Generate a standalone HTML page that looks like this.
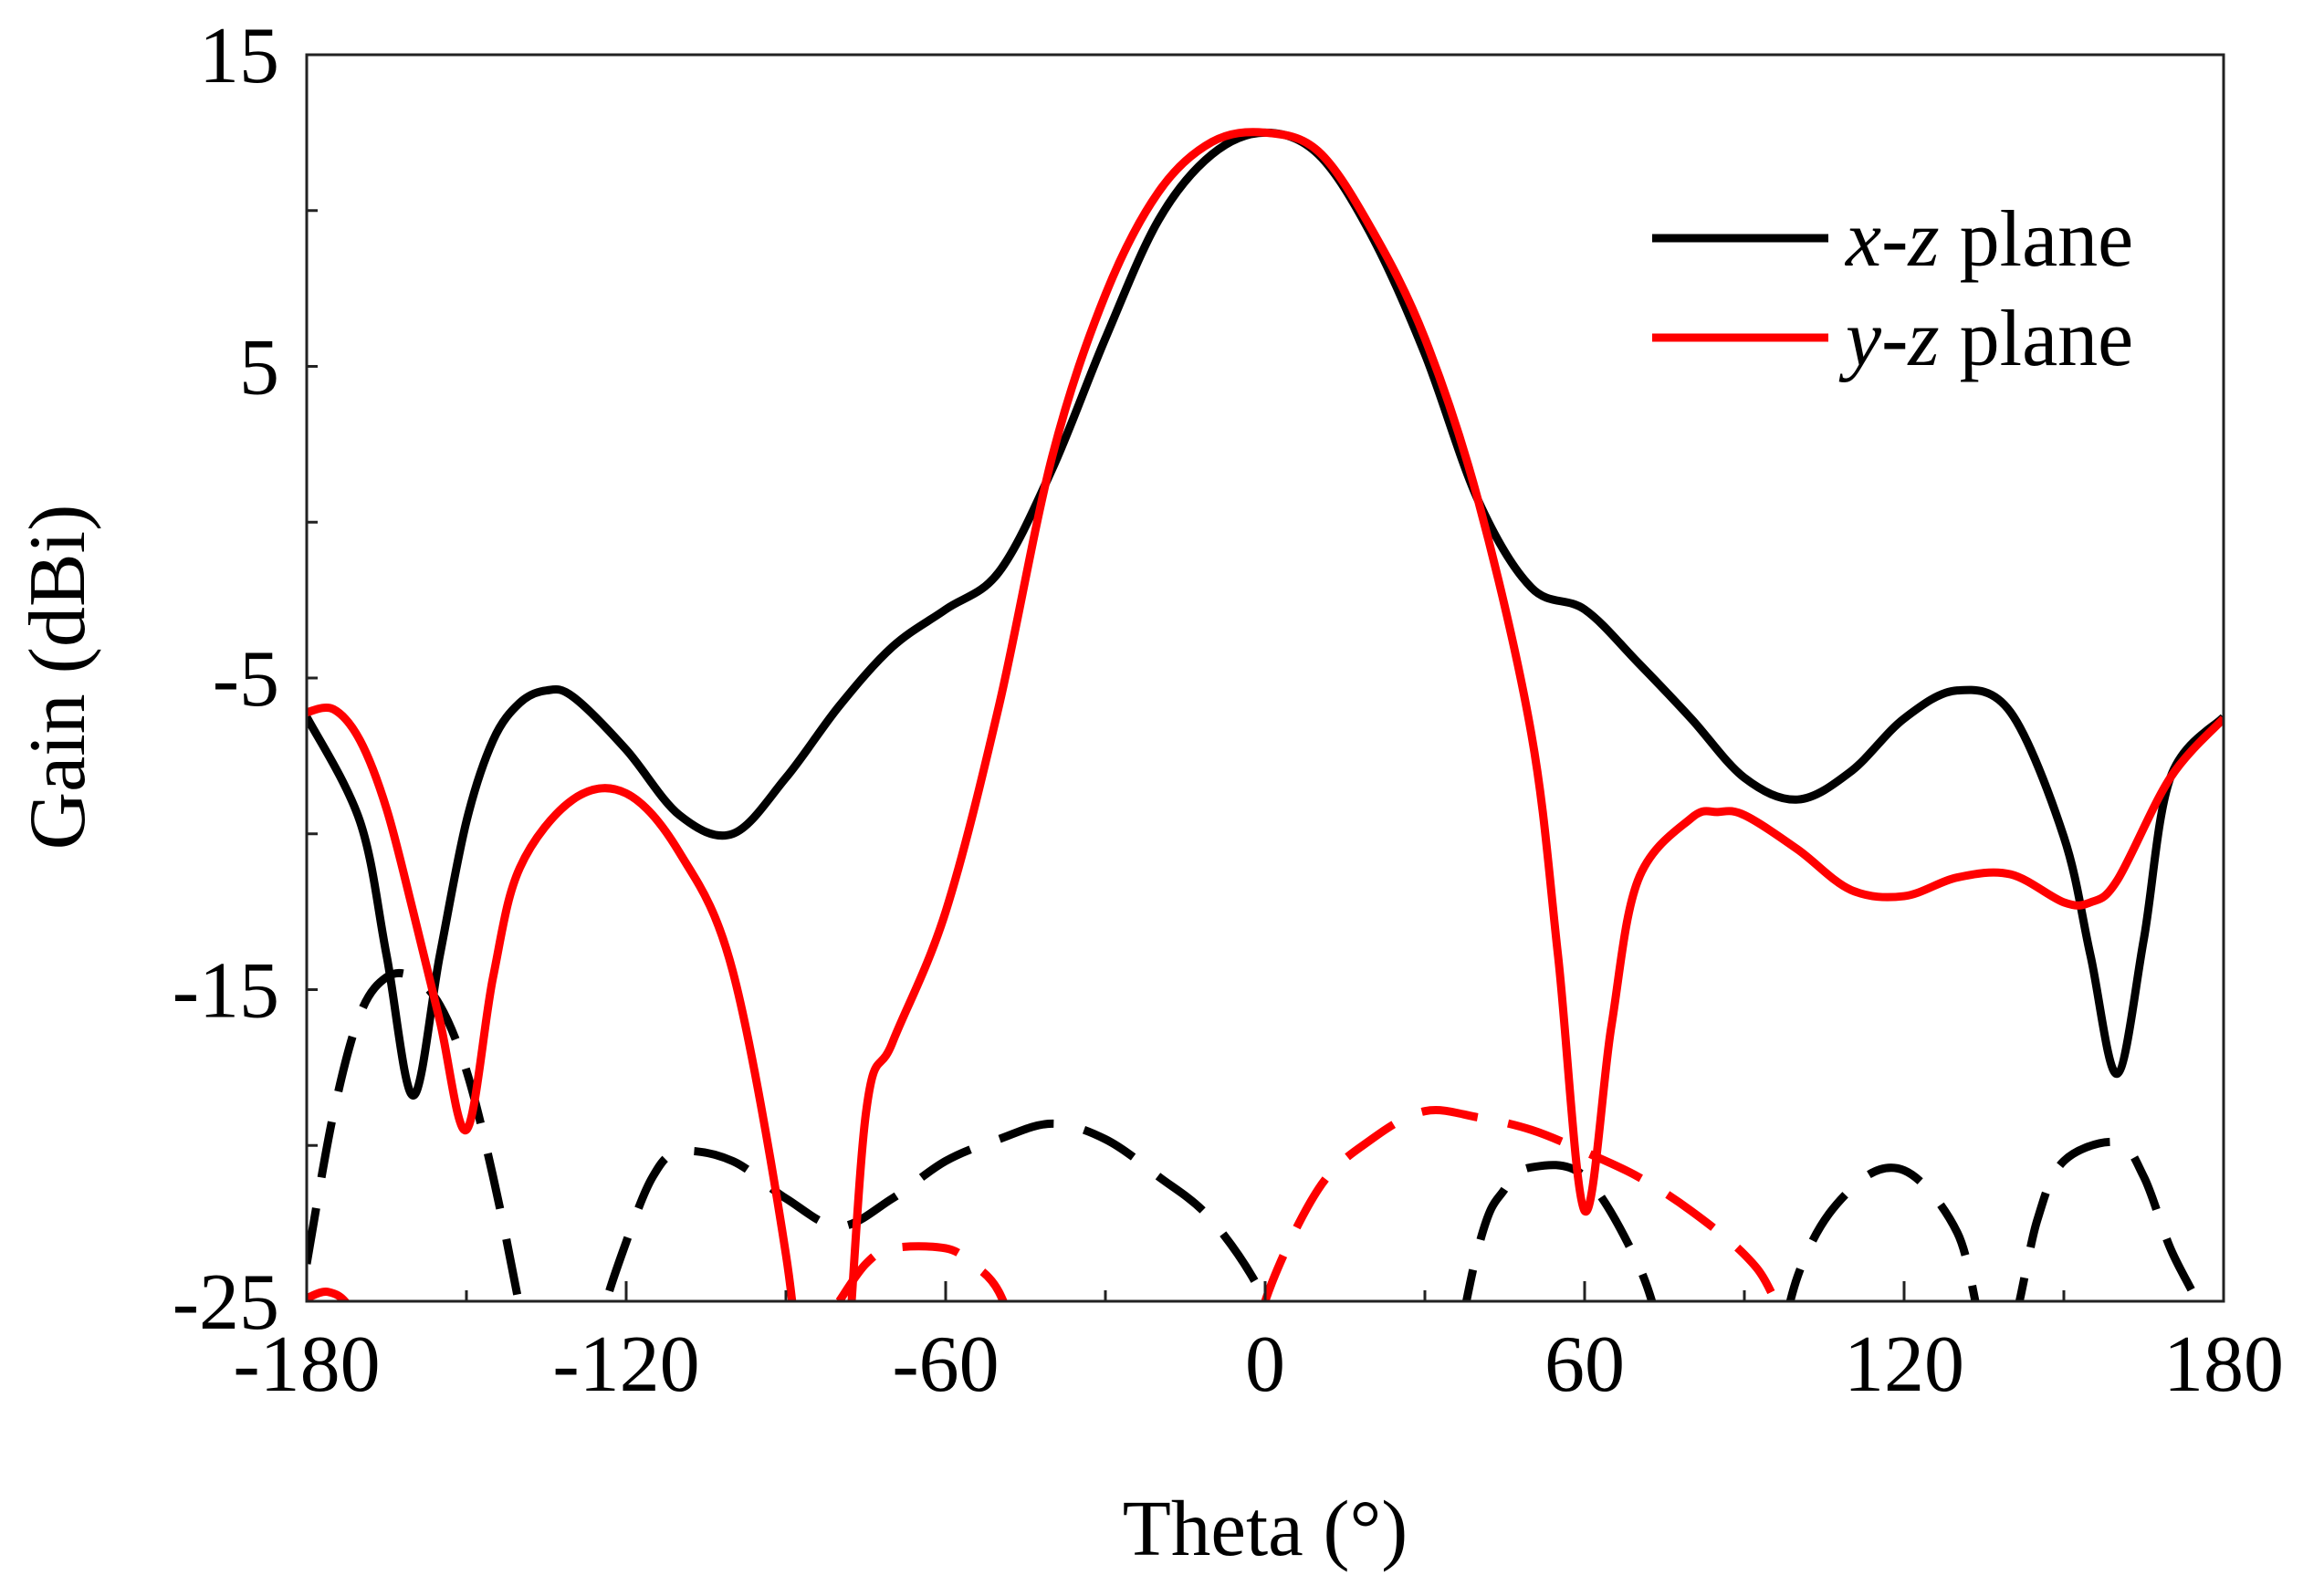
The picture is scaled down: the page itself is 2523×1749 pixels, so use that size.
<!DOCTYPE html>
<html><head><meta charset="utf-8"><style>
html,body{margin:0;padding:0;background:#fff}
svg{display:block}
text{font-family:"Liberation Serif",serif;fill:#000}
</style></head><body>
<svg id="chart" width="2523" height="1749" viewBox="0 0 2523 1749" xmlns="http://www.w3.org/2000/svg">
<defs><clipPath id="pc"><rect x="336" y="60" width="2100" height="1366"/></clipPath></defs>
<g id="series" clip-path="url(#pc)"></g>
<rect x="336" y="60" width="2100" height="1366" fill="none" stroke="#222" stroke-width="3"/>
<g id="axes"></g>
<text x="72" y="742" font-size="88" text-anchor="middle" transform="rotate(-90 72 742)" dominant-baseline="middle">Gain (dBi)</text>
<text x="1386" y="1704" font-size="87" text-anchor="middle">Theta (°)</text>
<g>
<line x1="1810" y1="261" x2="2003" y2="261" stroke="#000" stroke-width="9"/>
<text x="2022" y="291" font-size="88"><tspan font-style="italic">x</tspan>-<tspan font-style="italic">z</tspan> plane</text>
<line x1="1810" y1="370" x2="2003" y2="370" stroke="#f00" stroke-width="9"/>
<text x="2022" y="400" font-size="88"><tspan font-style="italic">y</tspan>-<tspan font-style="italic">z</tspan> plane</text>
</g>
</svg>
<script>
const xzTheta=[-180,-170,-165,-160,-155,-150,-145,-140,-135,-130,-120,-110,-100,-90,-80,-70,-60,-50,-40,-30,-20,-10,0,10,20,30,40,50,60,70,80,90,100,110,120,130,140,150,155,160,165,170,180];
const xzGain=[-6.25,-9.6,-13.9,-18.4,-13.9,-9.6,-7.0,-5.8,-5.4,-5.6,-7.3,-9.4,-10.0,-8.2,-5.9,-4.0,-2.8,-1.6,1.7,5.9,9.7,11.8,12.5,11.8,9.2,5.4,0.7,-2.1,-2.8,-4.5,-6.3,-8.2,-8.9,-8.0,-6.3,-5.4,-6.1,-10.1,-13.9,-17.7,-13.4,-8.2,-6.25];
const yzTheta=[-180,-175,-170,-165,-160,-155,-150,-145,-140,-130,-120,-110,-100,-90,-85,-80,-75,-70,-60,-50,-40,-30,-20,-10,0,10,20,30,40,50,55,60,65,70,80,85,90,100,110,120,130,140,150,155,160,170,180];
const yzGain=[-6.1,-6.0,-7.0,-9.2,-12.5,-16.0,-19.5,-14.6,-11.1,-8.9,-8.7,-10.6,-14.4,-23.5,-31,-30,-19,-16.7,-12.5,-5.9,2.1,7.3,10.6,12.2,12.5,11.9,9.4,5.9,0.7,-6.8,-13.9,-22.1,-16.2,-11.5,-9.5,-9.3,-9.4,-10.5,-11.8,-12.0,-11.4,-11.3,-12.2,-12.2,-11.5,-8.2,-6.3];
const xzCrossTheta=[-180,-175,-170,-165,-160,-155,-150,-145,-140,-135,-130,-125,-120,-115,-110,-100,-90,-80,-70,-60,-50,-40,-30,-20,-10,0,5,10,20,30,40,45,50,60,70,75,80,90,100,110,120,130,135,140,145,150,160,165,170,175,180];
const xzCrossGain=[-23.8,-19,-15.8,-14.6,-14.6,-15.5,-17.6,-21,-25.2,-30,-30,-25.8,-23.1,-21,-20.2,-20.5,-21.7,-22.6,-21.7,-20.5,-19.8,-19.3,-19.8,-21,-22.4,-25,-28,-31,-33,-31,-23.3,-21.4,-20.7,-21,-23.8,-26.5,-30,-31,-24.2,-21.4,-20.8,-22.8,-26,-26,-22.4,-20.5,-19.9,-21,-23.3,-25,-27];
const yzCrossTheta=[-180,-176,-172,-168,-80,-75,-70,-60,-55,-50,-45,-3,0,10,20,30,40,50,60,70,80,90,95,100];
const yzCrossGain=[-24.9,-24.7,-25.2,-27,-25,-23.8,-23.3,-23.3,-23.8,-24.7,-27,-28,-25,-21.4,-19.8,-18.9,-19.1,-19.5,-20.2,-21,-22.1,-23.5,-24.7,-27];
const yTicks=[15,5,-5,-15,-25];
const xTicks=[-180,-120,-60,0,60,120,180];

const L=336,R=2436,T=60,B=1426;
const sx=v=>L+(v+180)/360*(R-L);
const sy=v=>T+(15-v)/40*(B-T);
const NS="http://www.w3.org/2000/svg";
function pathFor(xs,ys){
  const p=xs.map((x,i)=>[sx(x),sy(ys[i])]);
  let d=`M${p[0][0]},${p[0][1]}`;
  for(let i=0;i<p.length-1;i++){
    const p0=p[Math.max(0,i-1)],p1=p[i],p2=p[i+1],p3=p[Math.min(p.length-1,i+2)];
    const c1=[p1[0]+(p2[0]-p0[0])/6,p1[1]+(p2[1]-p0[1])/6];
    const c2=[p2[0]-(p3[0]-p1[0])/6,p2[1]-(p3[1]-p1[1])/6];
    d+=`C${c1[0]},${c1[1]} ${c2[0]},${c2[1]} ${p2[0]},${p2[1]}`;
  }
  return d;
}
const g=document.getElementById('series');
function addLine(xs,ys,color,dash,name){
  const el=document.createElementNS(NS,'path');
  el.setAttribute('d',pathFor(xs,ys));
  el.setAttribute('fill','none');
  el.setAttribute('stroke',color);
  el.setAttribute('stroke-width','9');
  if(dash)el.setAttribute('stroke-dasharray',dash);
  
  
  g.appendChild(el);
}
addLine(xzCrossTheta,xzCrossGain,'#000','62 34','xz-cross-pol-line');
addLine(yzCrossTheta.slice(0,4),yzCrossGain.slice(0,4),'#f00','62 34','yz-cross-pol-line-left');
addLine(yzCrossTheta.slice(4,11),yzCrossGain.slice(4,11),'#f00','62 34','yz-cross-pol-line-mid');
addLine(yzCrossTheta.slice(11),yzCrossGain.slice(11),'#f00','62 34','yz-cross-pol-line-right');
addLine(xzTheta,xzGain,'#000',null,'xz-plane-line');
addLine(yzTheta,yzGain,'#f00',null,'yz-plane-line');

const ax=document.getElementById('axes');
for(let v=-25;v<=15;v+=5){
  const t=document.createElementNS(NS,'line');
  t.setAttribute('x1',L);t.setAttribute('x2',L+12);
  t.setAttribute('y1',sy(v));t.setAttribute('y2',sy(v));
  t.setAttribute('stroke','#222');t.setAttribute('stroke-width','3');
  
  
  ax.appendChild(t);
}
for(let v=-150;v<180;v+=30){
  const len=(v%60===0)?22:12;
  const t=document.createElementNS(NS,'line');
  t.setAttribute('x1',sx(v));t.setAttribute('x2',sx(v));
  t.setAttribute('y1',B);t.setAttribute('y2',B-len);
  t.setAttribute('stroke','#222');t.setAttribute('stroke-width','3');
  
  
  ax.appendChild(t);
}
yTicks.forEach(v=>{
  const t=document.createElementNS(NS,'text');
  t.setAttribute('x',306);t.setAttribute('y',sy(v)+30);
  t.setAttribute('font-size','88');t.setAttribute('text-anchor','end');
  t.textContent=v;
  
  
  ax.appendChild(t);
});
xTicks.forEach(v=>{
  const t=document.createElementNS(NS,'text');
  t.setAttribute('x',sx(v));t.setAttribute('y',1524);
  t.setAttribute('font-size','88');t.setAttribute('text-anchor','middle');
  t.textContent=v;
  
  
  ax.appendChild(t);
});
</script>
</body></html>
